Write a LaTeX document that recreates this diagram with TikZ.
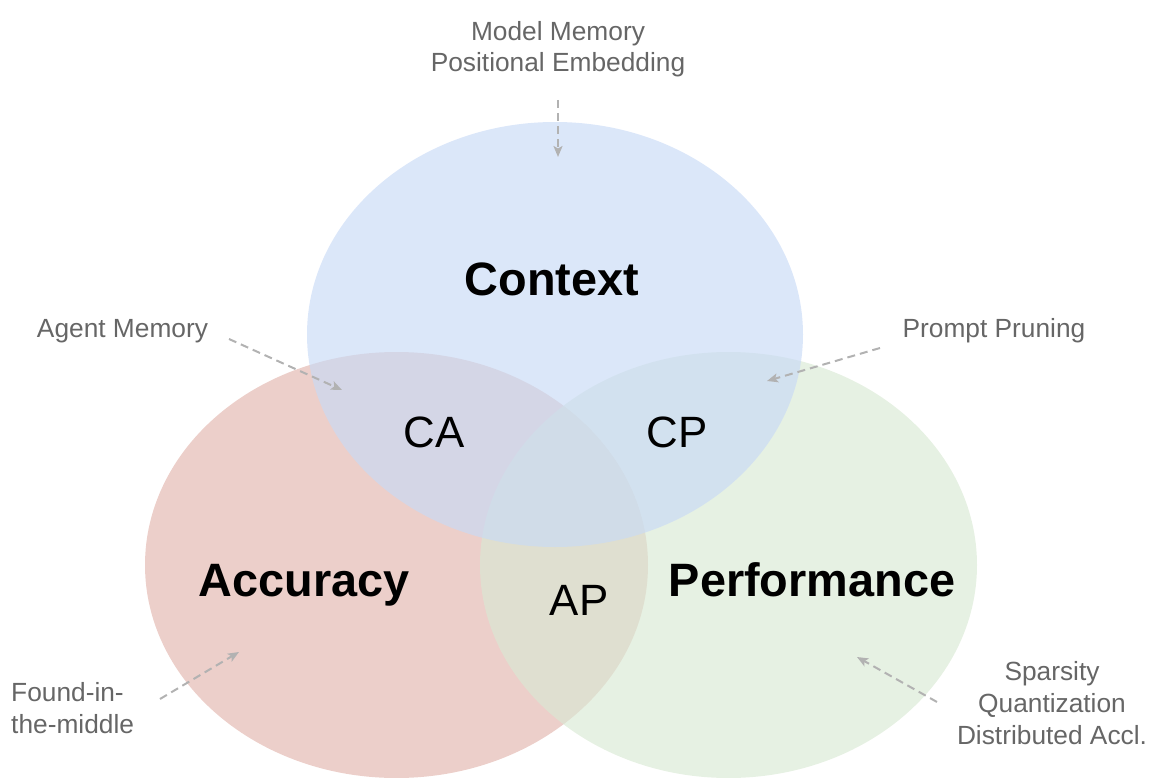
\documentclass[tikz,border=0pt]{standalone}
\usepackage{fontspec}
\setmainfont{Liberation Sans}
\usetikzlibrary{arrows.meta}
\definecolor{cblue}{RGB}{200,218,246}
\definecolor{cred}{RGB}{226,181,173}
\definecolor{cgreen}{RGB}{217,233,212}
\definecolor{lblgray}{RGB}{102,102,102}
\definecolor{arrgray}{RGB}{178,178,178}
\tikzset{
  setfill/.style={fill opacity=0.65, draw=none},
  bigtitle/.style={font=\fontsize{47}{56}\selectfont\bfseries, text=black, inner sep=0pt, anchor=base},
  overlap/.style={font=\fontsize{44}{52}\selectfont, text=black, inner sep=0pt, anchor=base},
  note/.style={font=\fontsize{26.4}{32}\selectfont, text=lblgray, inner sep=0pt},
  pointer/.style={draw=arrgray, line width=2bp, dash pattern=on 8bp off 5bp,
    -{Stealth[length=11bp, width=9bp, inset=2.5bp]}},
}
\begin{document}
\begin{tikzpicture}[x=1bp, y=-1bp]
  \useasboundingbox (0,0) rectangle (1163,778);
  % sets
  \fill[cred, setfill] (396.5,565) ellipse [x radius=251.5, y radius=213];
  \fill[cgreen, setfill] (728.5,565) ellipse [x radius=248.5, y radius=213];
  \fill[cblue, setfill] (555,334.5) ellipse [x radius=248, y radius=212.5];
  % titles
  \node[bigtitle] (context) at (552,295) {Context};
  \node[bigtitle] (accuracy) at (304,596) {Accuracy};
  \node[bigtitle] (performance) at (812,596) {Performance};
  % overlaps
  \node[overlap] (ca) at (434,447) {CA};
  \node[overlap] (cp) at (677,447) {CP};
  \node[overlap] (ap) at (579,615) {AP};
  % notes (base anchor = baseline of the last line)
  \node[note, anchor=base, align=center] (model) at (558,72) {Model Memory\\Positional Embedding};
  \node[note, anchor=base] (agent) at (122.5,337) {Agent Memory};
  \node[note, anchor=base] (prompt) at (994,337) {Prompt Pruning};
  \node[note, anchor=base west, align=left] (found) at (11,733) {Found-in-\\the-middle};
  \node[note, anchor=base, align=center] (sparse) at (1052,744) {Sparsity\\Quantization\\Distributed Accl.};
  % pointer ends
  \coordinate (m1) at (558,100);  \coordinate (m2) at (558,157);
  \coordinate (a1) at (229,339);  \coordinate (a2) at (342,390);
  \coordinate (p1) at (880,348);  \coordinate (p2) at (767,381);
  \coordinate (f1) at (160,699);  \coordinate (f2) at (239,652);
  \coordinate (s1) at (937,702);  \coordinate (s2) at (857,657);
  \draw[pointer] (m1) -- (m2);
  \draw[pointer] (a1) -- (a2);
  \draw[pointer] (p1) -- (p2);
  \draw[pointer] (f1) -- (f2);
  \draw[pointer] (s1) -- (s2);
\end{tikzpicture}
\end{document}
